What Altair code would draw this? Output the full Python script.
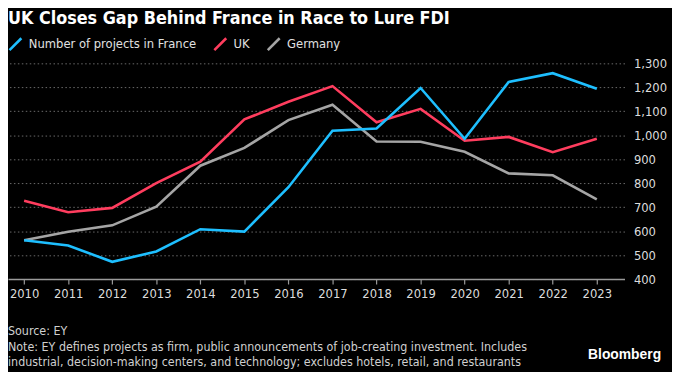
import altair as alt
import pandas as pd

years = list(range(2010, 2024))
france = [562, 540, 472, 515, 608, 598, 783, 1019, 1028, 1197, 985, 1222, 1259, 1194]
uk = [727, 679, 697, 800, 890, 1066, 1140, 1205, 1054, 1110, 977, 993, 929, 985]
germany = [562, 597, 624, 702, 873, 947, 1063, 1127, 974, 973, 931, 841, 833, 732]

series_names = ["Number of projects in France", "UK", "Germany"]
series_colors = ["#1ebfff", "#ff3d5e", "#a5a5a5"]

title_text = "UK Closes Gap Behind France in Race to Lure FDI"
source_lines = [
    "Source: EY",
    "Note: EY defines projects as firm, public announcements of job-creating investment. Includes",
    "industrial, decision-making centers, and technology; excludes hotels, retail, and restaurants",
]
brand = "Bloomberg"

FONT = "DejaVu Sans Condensed, Liberation Sans Narrow, Liberation Sans, sans-serif"

rows = []
# draw order: Germany (bottom), UK, France (top)
for name, vals in [("Germany", germany), ("UK", uk), ("Number of projects in France", france)]:
    for y, v in zip(years, vals):
        rows.append({"year": y, "value": v, "series": name})
df = pd.DataFrame(rows)

W, H = 623, 218

lines = alt.Chart(df).mark_line(strokeWidth=2.6, strokeJoin="miter").encode(
    x=alt.X(
        "year:Q",
        scale=alt.Scale(domain=[2009.634, 2023.629], nice=False, zero=False),
        axis=alt.Axis(
            values=years, format="d", title=None, grid=False, domain=True,
            domainColor="#9a9a9a", domainWidth=1.5, tickColor="#9a9a9a", tickSize=5,
            tickWidth=1.2, labelColor="#dcdcdc", labelFontSize=13, labelPadding=4,
            labelFont=FONT,
        ),
    ),
    y=alt.Y(
        "value:Q",
        scale=alt.Scale(domain=[400, 1300], nice=False, zero=False),
        axis=alt.Axis(
            orient="right", values=list(range(400, 1301, 100)), format=",d", title=None,
            grid=True, gridColor="#6a6a6a", gridDash=[1.5, 2.5], gridWidth=1,
            domain=False, ticks=False, labelAlign="left", labelPadding=9,
            labelColor="#dcdcdc", labelFontSize=13, labelFont=FONT,
        ),
    ),
    color=alt.Color(
        "series:N",
        scale=alt.Scale(domain=series_names, range=series_colors),
        legend=alt.Legend(
            orient="none", legendX=0, legendY=-27, direction="horizontal", title=None,
            symbolType="M-1,1L1,-1", symbolSize=144, symbolStrokeWidth=2.6,
            labelFontSize=13, labelColor="#e0e0e0", labelFont=FONT, labelOffset=6,
            columnPadding=12, labelLimit=400,
        ),
    ),
    detail="series:N",
)

title_df = pd.DataFrame({"t": [title_text]})
title = alt.Chart(title_df).mark_text(
    align="left", baseline="middle", fontSize=18, fontWeight="bold", color="white", font=FONT
).encode(x=alt.value(0), y=alt.value(-45), text="t:N")

src_df = pd.DataFrame({"t": source_lines, "i": [0, 1, 2]})
src = alt.Chart(src_df).mark_text(
    align="left", baseline="middle", fontSize=12.5, color="#d0d0d0", font=FONT
).encode(
    x=alt.value(0),
    y=alt.Y("i:Q", scale=alt.Scale(domain=[0, 2], range=[271, 302], nice=False, zero=False), axis=None),
    text="t:N",
)

brand_df = pd.DataFrame({"t": [brand]})
brand_mark = alt.Chart(brand_df).mark_text(
    align="right", baseline="middle", fontSize=14, fontWeight="bold", color="white",
    font="Liberation Sans, sans-serif"
).encode(x=alt.value(660), y=alt.value(295), text="t:N")

chart = alt.layer(lines, title, src, brand_mark).resolve_scale(y="independent").properties(
    width=W, height=H,
    autosize=alt.AutoSizeParams(type="none"),
    padding={"left": 0, "top": 54, "right": 48, "bottom": 92},
    background="black",
).configure_view(stroke=None)

chart.save("out.html", embed_options={"renderer": "svg", "actions": False})
